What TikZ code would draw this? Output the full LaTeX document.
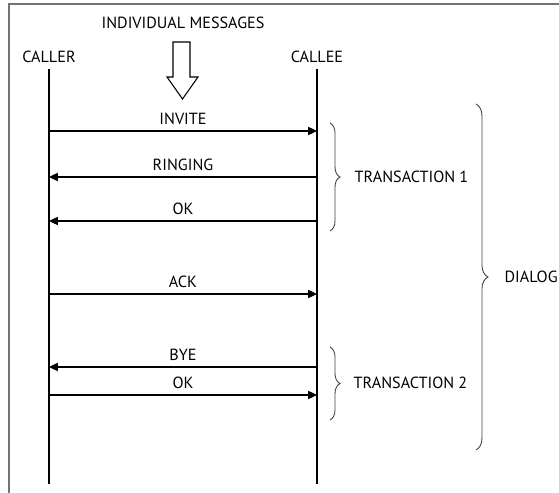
\documentclass[tikz,border=0pt]{standalone}
\usepackage{fontspec}
\setmainfont{PT Sans}
\usetikzlibrary{arrows.meta,decorations.pathreplacing}

\begin{document}
\begin{tikzpicture}[x=0.02cm,y=-0.02cm,>={Triangle[length=5pt,width=4.6pt]},line width=0.75pt,
  font=\fontsize{9.2}{11}\selectfont,
  msg/.style={->},
  brc/.style={decorate,decoration={brace,amplitude=#1},draw=black!75,line width=0.5pt},
  brc/.default=5.7pt]
  \useasboundingbox (0,0) rectangle (559,493);

  % Rahmen
  \draw[black!55,line width=1pt] (559,4) -- (9,4) -- (9,493);

  % Titel und Teilnehmer
  \node (indiv) at (183,23) {INDIVIDUAL MESSAGES};
  \node (caller) at (49,57) {CALLER};
  \node (callee) at (317,57) {CALLEE};

  % Hohlpfeil
  \draw[line width=0.6pt] (173,42) -- (190,42) -- (190,77) -- (198,77)
    -- (182.5,99) -- (167,77) -- (173,77) -- cycle;

  % Lebenslinien
  \coordinate (callerEnd) at (49,484);
  \coordinate (calleeEnd) at (317,484);
  \draw (caller.south) -- (callerEnd);
  \draw (callee.south) -- (calleeEnd);

  % Nachrichten
  \coordinate (A1) at (49,131);  \coordinate (B1) at (317,131);
  \coordinate (A2) at (49,177);  \coordinate (B2) at (317,177);
  \coordinate (A3) at (49,221);  \coordinate (B3) at (317,221);
  \coordinate (A4) at (49,294);  \coordinate (B4) at (317,294);
  \coordinate (A5) at (49,367);  \coordinate (B5) at (317,367);
  \coordinate (A6) at (49,395);  \coordinate (B6) at (317,395);

  \draw[msg] (A1) -- node[above] (invite) {INVITE} (B1);
  \draw[msg] (B2) -- node[above] (ringing) {RINGING} (A2);
  \draw[msg] (B3) -- node[above] (ok1) {OK} (A3);
  \draw[msg] (A4) -- node[above] (ack) {ACK} (B4);
  \draw[msg] (B5) -- node[above] (bye) {BYE} (A5);
  \draw[msg] (A6) -- node[above] (ok2) {OK} (B6);

  % Klammern
  \draw[brc] (330,123) -- (330,231);
  \draw[brc] (330,347) -- (330,420);
  \draw[brc=6.8pt] (476,104) -- (476,450);

  % Klammertexte
  \node[anchor=west,inner sep=0pt] (trans1) at (354,177) {TRANSACTION 1};
  \node[anchor=west,inner sep=0pt] (trans2) at (353,383) {TRANSACTION 2};
  \node[anchor=west,inner sep=0pt] (dialog) at (504,277) {DIALOG};
\end{tikzpicture}
\end{document}
